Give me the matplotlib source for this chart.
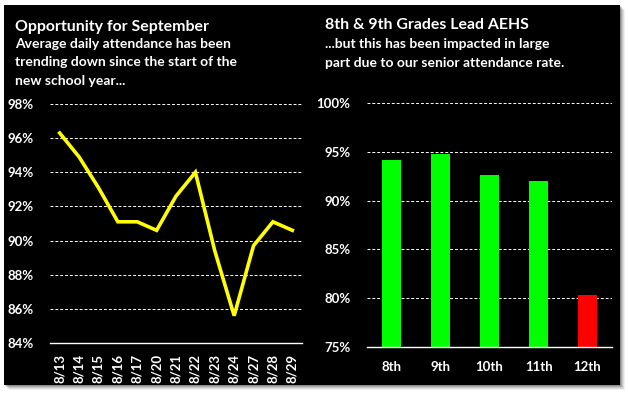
import matplotlib.pyplot as plt
import matplotlib.ticker as mtick
from matplotlib.patches import FancyBboxPatch

plt.rcParams['font.family'] = ['Lato', 'DejaVu Sans']
plt.rcParams['font.weight'] = 'bold'

# daily attendance (left chart)
dates = ['8/13', '8/14', '8/15', '8/16', '8/17', '8/20', '8/21',
         '8/22', '8/23', '8/24', '8/27', '8/28', '8/29']
daily_rate = [0.963, 0.949, 0.931, 0.911, 0.911, 0.906, 0.926,
              0.940, 0.894, 0.856, 0.897, 0.911, 0.906]

# attendance by grade (right chart)
grades = ['8th', '9th', '10th', '11th', '12th']
grade_rate = [0.942, 0.948, 0.926, 0.920, 0.803]
grade_colors = ['#00FF00', '#00FF00', '#00FF00', '#00FF00', '#FF0000']

W, H = 628, 396
fig = plt.figure(figsize=(W / 100, H / 100), dpi=100)
fig.patch.set_facecolor('white')

# drop shadow + black panel
for i, a in enumerate([0.06, 0.08, 0.10, 0.14, 0.18]):
    off = 5 - i
    sh = FancyBboxPatch(((4 + off) / W, 1 - (385 + off) / H), 616 / W, 380 / H,
                        boxstyle='square,pad=0', transform=fig.transFigure,
                        facecolor='black', edgecolor='none', alpha=a, zorder=-3)
    fig.patches.append(sh)
panel = FancyBboxPatch((4 / W, 1 - 385 / H), 616 / W, 380 / H,
                       boxstyle='square,pad=0', transform=fig.transFigure,
                       facecolor='black', edgecolor='none', zorder=-2)
fig.patches.append(panel)

# titles
fig.text(15 / W, 1 - 31 / H, 'Opportunity for September', color='white',
         fontsize=11.4, fontweight='bold', va='baseline')
for k, line in enumerate(['Average daily attendance has been',
                          'trending down since the start of the',
                          'new school year...']):
    fig.text(15 / W, 1 - (48 + 18.5 * k) / H, line, color='white',
             fontsize=10, fontweight='bold', va='baseline')

fig.text(325 / W, 1 - 29 / H, '8th & 9th Grades Lead AEHS', color='white',
         fontsize=11.4, fontweight='bold', va='baseline')
for k, line in enumerate(['...but this has been impacted in large',
                          'part due to our senior attendance rate.']):
    fig.text(325 / W, 1 - (48 + 19 * k) / H, line, color='white',
             fontsize=10, fontweight='bold', va='baseline')


def style_axes(ax):
    ax.set_facecolor('none')
    for s in ['top', 'right', 'left']:
        ax.spines[s].set_visible(False)
    ax.spines['bottom'].set_color('white')
    ax.spines['bottom'].set_linewidth(1.0)
    ax.yaxis.grid(True, color='white', linestyle=(0, (3, 2)), linewidth=0.7)
    ax.set_axisbelow(True)
    ax.tick_params(axis='both', length=0, colors='white', labelsize=9.5)
    ax.tick_params(axis='y', pad=12)
    for lbl in ax.get_xticklabels() + ax.get_yticklabels():
        lbl.set_fontweight('bold')


# left: line chart
ax1 = fig.add_axes([50 / W, 1 - 343 / H, 252 / W, 239 / H])
x = range(len(dates))
ax1.plot(x, daily_rate, color='#FFFF00', linewidth=2.6, clip_on=False,
         solid_joinstyle='miter')
ax1.set_xlim(-0.5, len(dates) - 0.5)
ax1.set_ylim(0.84, 0.98)
ax1.set_yticks([0.84, 0.86, 0.88, 0.90, 0.92, 0.94, 0.96, 0.98])
ax1.yaxis.set_major_formatter(mtick.PercentFormatter(1.0, decimals=0))
ax1.set_xticks(list(x))
ax1.set_xticklabels(dates, rotation=90)
style_axes(ax1)
ax1.tick_params(axis='x', pad=8)

# right: bar chart
ax2 = fig.add_axes([367 / W, 1 - 347 / H, 245 / W, 244 / H])
ax2.bar(grades, grade_rate, color=grade_colors, width=0.39)
ax2.set_xlim(-0.5, len(grades) - 0.5)
ax2.set_ylim(0.75, 1.00)
ax2.set_yticks([0.75, 0.80, 0.85, 0.90, 0.95, 1.00])
ax2.yaxis.set_major_formatter(mtick.PercentFormatter(1.0, decimals=0))
style_axes(ax2)
ax2.tick_params(axis='x', pad=10)

fig.savefig('out.png', dpi=100, facecolor='white')
